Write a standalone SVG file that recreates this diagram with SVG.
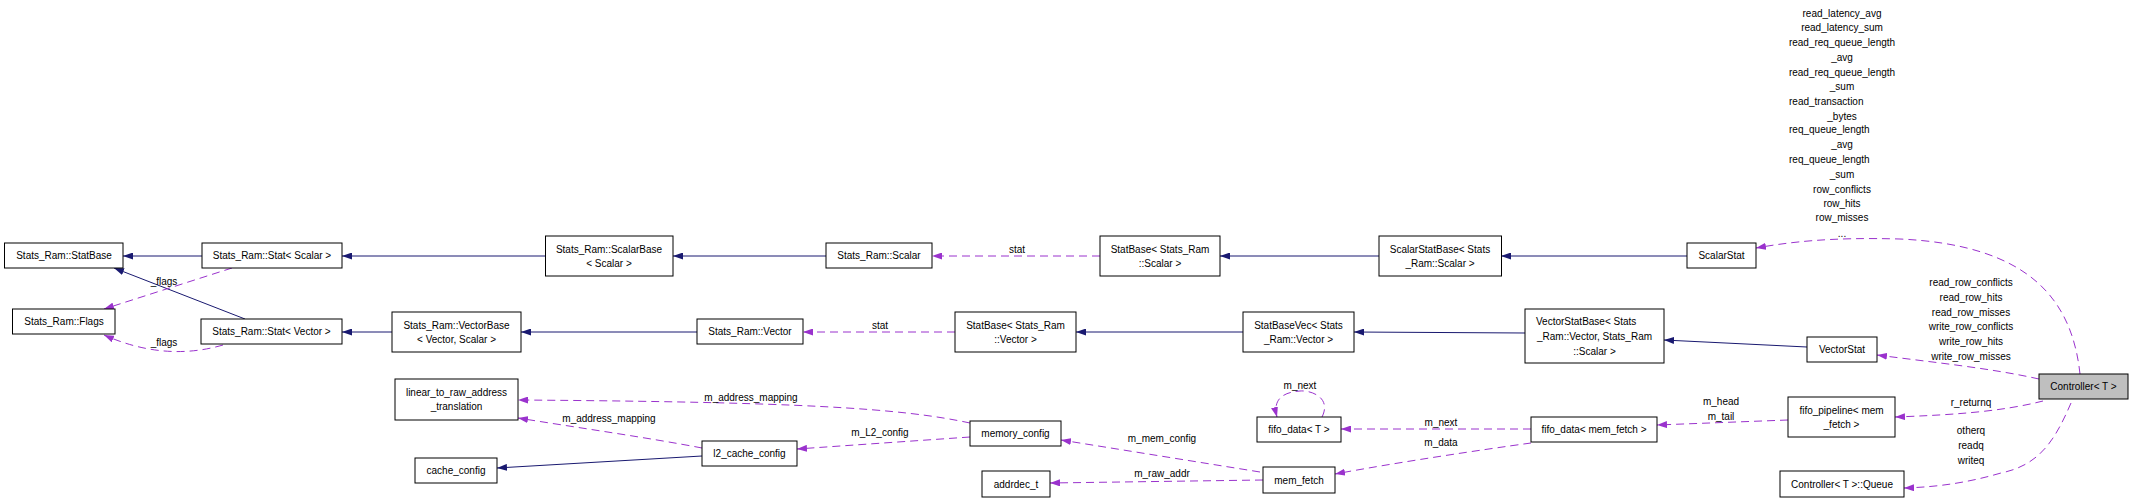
<svg xmlns="http://www.w3.org/2000/svg" width="2133" height="503" viewBox="0 0 2133 503">
<style>
text{font-family:"Liberation Sans",Arial,sans-serif;font-size:10px;fill:#000;text-anchor:middle}
.l{text-anchor:start}
.n rect{fill:#fff;stroke:#000;stroke-width:1}
.n rect.hl{fill:#bfbfbf}
.s{fill:none;stroke:#191970;stroke-width:1;marker-end:url(#an)}
.d{fill:none;stroke:#9a32cd;stroke-width:1;stroke-dasharray:8,5;marker-end:url(#ap)}
</style>
<defs>
<marker id="an" viewBox="0 0 10 7" refX="10" refY="3.5" markerWidth="10" markerHeight="7" markerUnits="userSpaceOnUse" orient="auto"><path d="M0,0L10,3.5L0,7z" fill="#191970"/></marker>
<marker id="ap" viewBox="0 0 10 7" refX="10" refY="3.5" markerWidth="10" markerHeight="7" markerUnits="userSpaceOnUse" orient="auto"><path d="M0,0L10,3.5L0,7z" fill="#9a32cd"/></marker>
</defs>
<rect width="2133" height="503" fill="#fff"/>
<g id="edges">
<path class="s" d="M202,256L123,256"/>
<path class="s" d="M245,319L114,268"/>
<path class="s" d="M545,256L342,256"/>
<path class="s" d="M826,256L673,256"/>
<path class="s" d="M1379,256L1220,256"/>
<path class="s" d="M1687,256L1501,256"/>
<path class="s" d="M392,332L342,332"/>
<path class="s" d="M697,332L521,332"/>
<path class="s" d="M1243,332L1076,332"/>
<path class="s" d="M1525,333L1354,332"/>
<path class="s" d="M1807,347L1664,340"/>
<path class="s" d="M702,456L497,468"/>
<path class="d" d="M232,268L104,309"/>
<text x="164" y="284.5">_flags</text>
<path class="d" d="M223,345Q165,362 104,335"/>
<text x="164" y="345.5">_flags</text>
<path class="d" d="M1100,256L932,256"/>
<text x="1017" y="252.5">stat</text>
<path class="d" d="M955,332L803,332"/>
<text x="880" y="328.5">stat</text>
<path class="d" d="M970,423C900,408 800,402 518,400"/>
<text x="751" y="400.5">m_address_mapping</text>
<path class="d" d="M702,448C650,438 580,428 518,418"/>
<text x="609" y="421.5">m_address_mapping</text>
<path class="d" d="M970,437L797,449"/>
<text x="880" y="435.5">m_L2_config</text>
<path class="d" d="M1260,472L1061,440"/>
<text x="1162" y="441.5">m_mem_config</text>
<path class="d" d="M1263,480L1050,483"/>
<text x="1162" y="476.5">m_raw_addr</text>
<path class="d" d="M1322,417C1332,397 1310,390 1300,391C1285,392 1272,398 1277,417"/>
<text x="1300" y="388.5">m_next</text>
<path class="d" d="M1531,429L1341,429"/>
<text x="1441" y="425.5">m_next</text>
<path class="d" d="M1531,443C1480,450 1400,462 1335,474"/>
<text x="1441" y="445.5">m_data</text>
<path class="d" d="M1788,420L1657,425"/>
<text x="1721" y="404.5">m_head</text>
<text x="1721" y="419.5">m_tail</text>
<path class="d" d="M2043,401C2000,412 1950,415 1895,417"/>
<text x="1971" y="405.5">r_returnq</text>
<path class="d" d="M2071,403C2055,440 2040,465 2001,473C1970,482 1940,487 1904,488"/>
<text x="1971" y="433.5">otherq</text>
<text x="1971" y="448.5">readq</text>
<text x="1971" y="463.5">writeq</text>
<path class="d" d="M2039,379C1990,368 1930,362 1877,355"/>
<text x="1971" y="285.5">read_row_conflicts</text>
<text x="1971" y="300.5">read_row_hits</text>
<text x="1971" y="315.5">read_row_misses</text>
<text x="1971" y="329.5">write_row_conflicts</text>
<text x="1971" y="344.5">write_row_hits</text>
<text x="1971" y="359.5">write_row_misses</text>
<path class="d" d="M2080,374C2072,300 2030,245 1900,239C1830,237 1790,242 1756,248"/>
<text x="1842" y="16.5">read_latency_avg</text>
<text x="1842" y="30.5">read_latency_sum</text>
<text x="1842" y="45.5">read_req_queue_length</text>
<text x="1842" y="60.5">_avg</text>
<text x="1842" y="75.5">read_req_queue_length</text>
<text x="1842" y="89.5">_sum</text>
<text class="l" x="1789" y="104.5">read_transaction</text>
<text x="1842" y="119.5">_bytes</text>
<text class="l" x="1789" y="132.5">req_queue_length</text>
<text x="1842" y="147.5">_avg</text>
<text class="l" x="1789" y="162.5">req_queue_length</text>
<text x="1842" y="177.5">_sum</text>
<text x="1842" y="192.5">row_conflicts</text>
<text x="1842" y="206.5">row_hits</text>
<text x="1842" y="220.5">row_misses</text>
<text x="1842" y="236.5">...</text>
</g>
<g id="n1" class="n"><rect x="4.5" y="243" width="118.5" height="25"/><text x="64" y="259">Stats_Ram::StatBase</text></g>
<g id="n2" class="n"><rect x="202" y="243" width="140" height="25"/><text x="272" y="259">Stats_Ram::Stat&lt; Scalar &gt;</text></g>
<g id="n3" class="n"><rect x="545.5" y="236" width="127.5" height="40"/><text x="609" y="252.5">Stats_Ram::ScalarBase</text><text x="609" y="267">&lt; Scalar &gt;</text></g>
<g id="n4" class="n"><rect x="12.5" y="309" width="102.5" height="25"/><text x="64" y="325">Stats_Ram::Flags</text></g>
<g id="n5" class="n"><rect x="201" y="319" width="141" height="25"/><text x="271.5" y="335">Stats_Ram::Stat&lt; Vector &gt;</text></g>
<g id="n6" class="n"><rect x="392" y="312" width="129" height="40"/><text x="456.5" y="328.5">Stats_Ram::VectorBase</text><text x="456.5" y="343">&lt; Vector, Scalar &gt;</text></g>
<g id="n7" class="n"><rect x="826" y="243" width="106" height="25"/><text x="879" y="259">Stats_Ram::Scalar</text></g>
<g id="n8" class="n"><rect x="1100" y="236" width="120" height="40"/><text x="1160" y="252.5">StatBase&lt; Stats_Ram</text><text x="1160" y="267">::Scalar &gt;</text></g>
<g id="n9" class="n"><rect x="697" y="319" width="106" height="25"/><text x="750" y="335">Stats_Ram::Vector</text></g>
<g id="n10" class="n"><rect x="955" y="312" width="121" height="40"/><text x="1015.5" y="328.5">StatBase&lt; Stats_Ram</text><text x="1015.5" y="343">::Vector &gt;</text></g>
<g id="n11" class="n"><rect x="1243" y="312" width="111" height="40"/><text x="1298.5" y="328.5">StatBaseVec&lt; Stats</text><text x="1298.5" y="343">_Ram::Vector &gt;</text></g>
<g id="n12" class="n"><rect x="1379" y="236" width="122.5" height="40"/><text x="1440" y="252.5">ScalarStatBase&lt; Stats</text><text x="1440" y="267">_Ram::Scalar &gt;</text></g>
<g id="n13" class="n"><rect x="1687" y="243" width="69" height="25"/><text x="1721.5" y="259">ScalarStat</text></g>
<g id="n14" class="n"><rect x="1525" y="309" width="139" height="54"/><text class="l" x="1536" y="324.5">VectorStatBase&lt; Stats</text><text x="1594.5" y="339.5">_Ram::Vector, Stats_Ram</text><text x="1594.5" y="354.5">::Scalar &gt;</text></g>
<g id="n15" class="n"><rect x="1807" y="337" width="70" height="25"/><text x="1842" y="353">VectorStat</text></g>
<g id="n16" class="n"><rect class="hl" x="2039" y="374" width="89" height="25"/><text x="2083.5" y="390">Controller&lt; T &gt;</text></g>
<g id="n17" class="n"><rect x="1788" y="397" width="107" height="40"/><text x="1841.5" y="413.5">fifo_pipeline&lt; mem</text><text x="1841.5" y="428">_fetch &gt;</text></g>
<g id="n18" class="n"><rect x="1780" y="471" width="124" height="26"/><text x="1842" y="487.5">Controller&lt; T &gt;::Queue</text></g>
<g id="n19" class="n"><rect x="1531" y="417" width="126" height="25"/><text x="1594" y="433">fifo_data&lt; mem_fetch &gt;</text></g>
<g id="n20" class="n"><rect x="1257" y="417" width="84" height="25"/><text x="1299" y="433">fifo_data&lt; T &gt;</text></g>
<g id="n21" class="n"><rect x="1263" y="467" width="72" height="26"/><text x="1299" y="483.5">mem_fetch</text></g>
<g id="n22" class="n"><rect x="982" y="471" width="68" height="26"/><text x="1016" y="487.5">addrdec_t</text></g>
<g id="n23" class="n"><rect x="970" y="421" width="91" height="25"/><text x="1015.5" y="437">memory_config</text></g>
<g id="n24" class="n"><rect x="702" y="441" width="95" height="25"/><text x="749.5" y="457">l2_cache_config</text></g>
<g id="n25" class="n"><rect x="395" y="379" width="123" height="41"/><text x="456.5" y="395.5">linear_to_raw_address</text><text x="456.5" y="410">_translation</text></g>
<g id="n26" class="n"><rect x="415" y="458" width="82" height="25"/><text x="456" y="474">cache_config</text></g>
</svg>
